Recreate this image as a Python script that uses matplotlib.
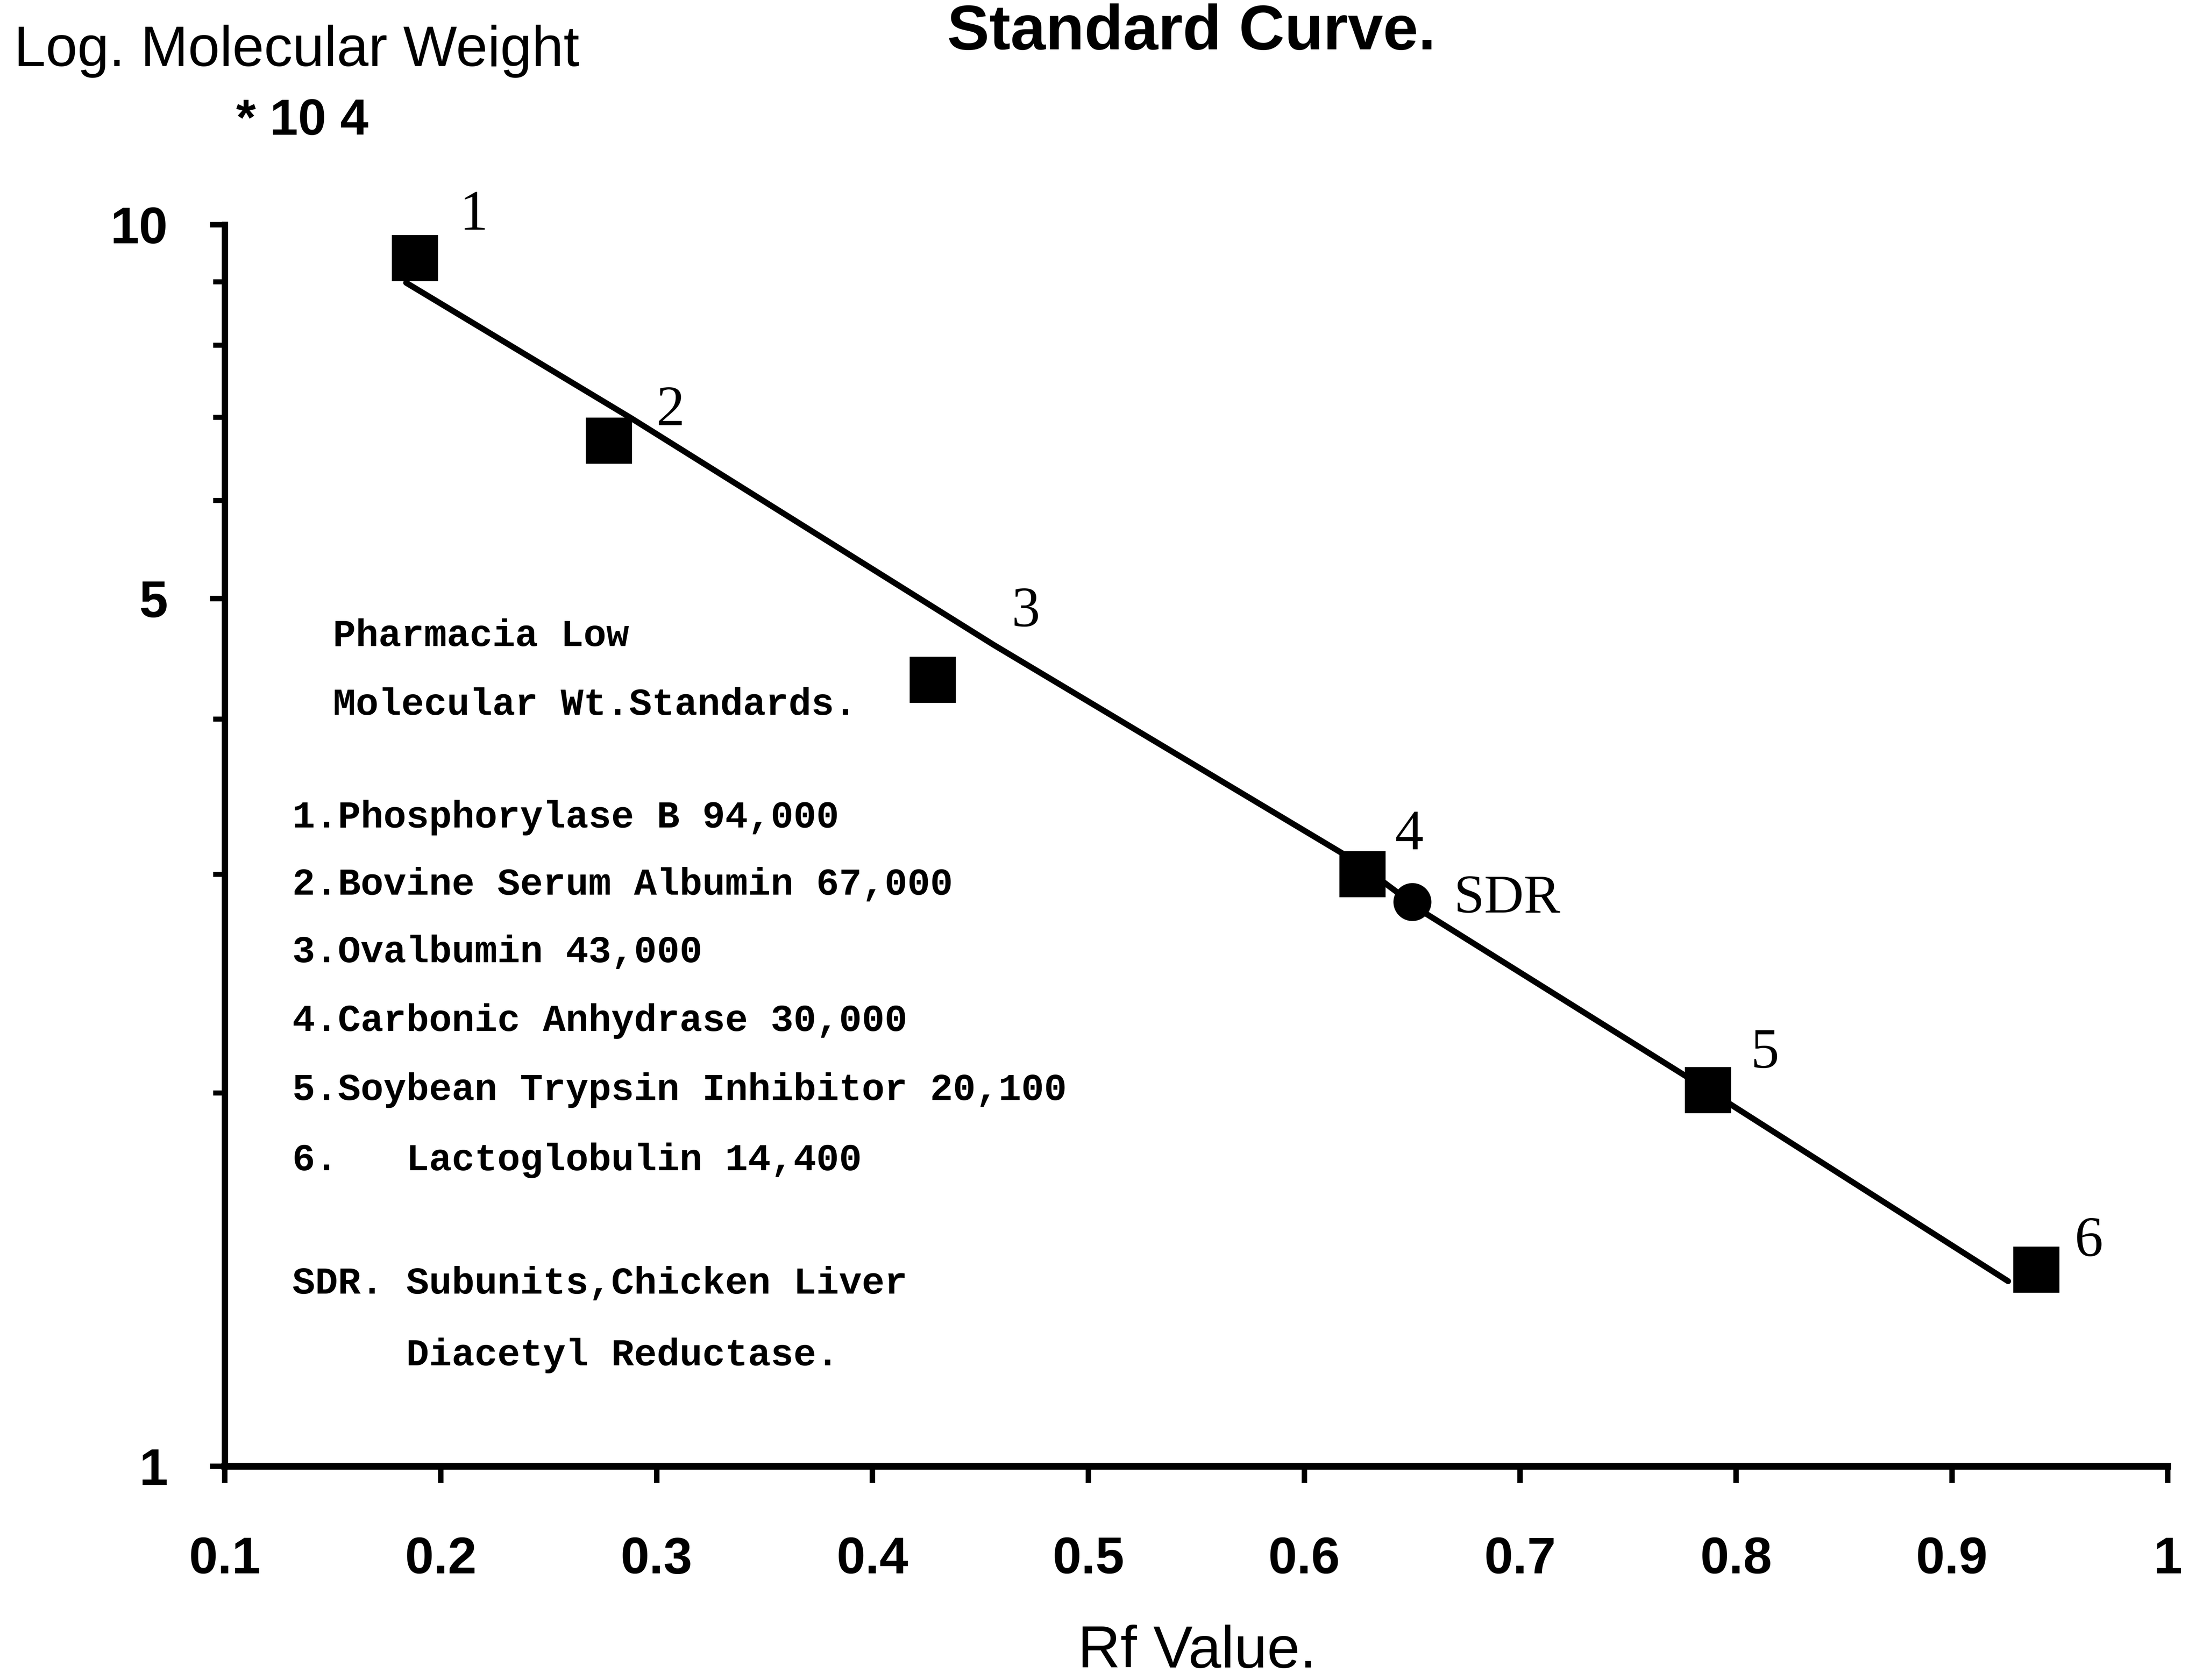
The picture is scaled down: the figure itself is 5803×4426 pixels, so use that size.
import numpy as np
import matplotlib
matplotlib.use("Agg")
import matplotlib.pyplot as plt
from matplotlib.ticker import FixedLocator, NullFormatter

plt.rcParams['font.family'] = ['Liberation Sans', 'DejaVu Sans']

# Marker proteins: Rf value and molecular weight (Da)
std_numbers = ["1", "2", "3", "4", "5", "6"]
std_rf = [0.188, 0.278, 0.428, 0.627, 0.787, 0.939]
std_mw = [94000, 67000, 43000, 30000, 20100, 14400]

# Unknown: SDR subunits
sdr_rf = [0.650]
sdr_mw = [28500]

# Hand-drawn standard curve (Rf, MW x 10^4)
fit_rf = [0.184, 0.288, 0.456, 0.624, 0.656, 0.787, 0.926]
fit_mw = [8.98, 6.99, 4.59, 3.07, 2.79, 2.01, 1.41]

x_ticks = [0.1, 0.2, 0.3, 0.4, 0.5, 0.6, 0.7, 0.8, 0.9, 1.0]
x_ticklabels = ["0.1", "0.2", "0.3", "0.4", "0.5", "0.6", "0.7", "0.8", "0.9", "1"]
y_major = [1, 5, 10]
y_major_labels = ["1", "5", "10"]
y_minor = [2, 3, 4, 6, 7, 8, 9]

legend_lines = [
    "Pharmacia Low",
    "Molecular Wt.Standards.",
    "1.Phosphorylase B 94,000",
    "2.Bovine Serum Albumin 67,000",
    "3.Ovalbumin 43,000",
    "4.Carbonic Anhydrase 30,000",
    "5.Soybean Trypsin Inhibitor 20,100",
    "6.   Lactoglobulin 14,400",
    "SDR. Subunits,Chicken Liver",
    "     Diacetyl Reductase.",
]

W, H = 1568.0, 1196.0  # layout grid used for placing elements


def fx(px):
    return px / W


def fy(py):
    return 1.0 - py / H


fig = plt.figure(figsize=(5803 / 400, 4426 / 400), dpi=400)
ax = fig.add_axes([fx(160), fy(1044), (1543 - 160) / W, (1044 - 160) / H])

ax.set_yscale('log')
ax.set_xlim(0.1, 1.0)
ax.set_ylim(1, 10)

for side in ("top", "right"):
    ax.spines[side].set_visible(False)
ax.spines["left"].set_linewidth(3.0)
ax.spines["bottom"].set_linewidth(3.2)

ax.xaxis.set_major_locator(FixedLocator(x_ticks))
ax.set_xticklabels(x_ticklabels)
ax.yaxis.set_major_locator(FixedLocator(y_major))
ax.set_yticklabels(y_major_labels)
ax.yaxis.set_minor_locator(FixedLocator(y_minor))
ax.yaxis.set_minor_formatter(NullFormatter())

ax.tick_params(axis='x', direction='out', length=8, width=2.6, pad=25,
               labelsize=24.5)
ax.tick_params(axis='y', which='major', direction='out', length=7, width=2.6,
               pad=20, labelsize=24.5)
ax.tick_params(axis='y', which='minor', direction='out', length=5.5, width=2.4)
for lbl in ax.get_xticklabels() + ax.get_yticklabels():
    lbl.set_fontweight('bold')

# Standard curve and points
ax.plot(fit_rf, fit_mw, color='black', lw=2.8, solid_joinstyle='round',
        solid_capstyle='round', zorder=2)
std_y = [m / 1e4 for m in std_mw]
ax.plot(std_rf, std_y, linestyle='none', marker='s', markersize=21,
        color='black', zorder=3, clip_on=False)
sdr_y = [m / 1e4 for m in sdr_mw]
ax.plot(sdr_rf, sdr_y, linestyle='none', marker='o', markersize=17,
        color='black', zorder=3, clip_on=False)

# Point numbers
num_offsets = [(28, 20), (29, 14), (44, 32), (22, 18), (27, 17), (25, 13)]
for lab, x, y, off in zip(std_numbers, std_rf, std_y, num_offsets):
    ax.annotate(lab, (x, y), xytext=off, textcoords='offset points',
                ha='center', va='center', fontsize=27,
                family=['Liberation Serif', 'DejaVu Serif'],
                annotation_clip=False)
ax.annotate("SDR", (sdr_rf[0], sdr_y[0]), xytext=(45, 1),
            textcoords='offset points', ha='center', va='center',
            fontsize=26, family=['Liberation Serif', 'DejaVu Serif'],
            annotation_clip=False)

# Key to the standards
legend_pos = [(237, 453), (237, 502), (208, 582), (208, 630), (208, 678),
              (208, 727), (208, 776), (208, 826), (208, 914), (208, 965)]
for txt, (px, py) in zip(legend_lines, legend_pos):
    fig.text(fx(px), fy(py), txt, ha='left', va='center', fontsize=18,
             fontweight='bold', family=['Liberation Mono', 'DejaVu Sans Mono'])

# Titles and axis captions
fig.text(fx(848), fy(35), "Standard Curve.", ha='center', va='baseline',
         fontsize=30, fontweight='bold')
fig.text(fx(10), fy(47), "Log. Molecular Weight", ha='left', va='baseline',
         fontsize=27)
fig.text(fx(168), fy(96), "* 10 4", ha='left', va='baseline',
         fontsize=24, fontweight='bold')
fig.text(fx(852), fy(1187), "Rf Value.", ha='center', va='baseline',
         fontsize=28)

fig.savefig("out.png", dpi=400, facecolor='white')
